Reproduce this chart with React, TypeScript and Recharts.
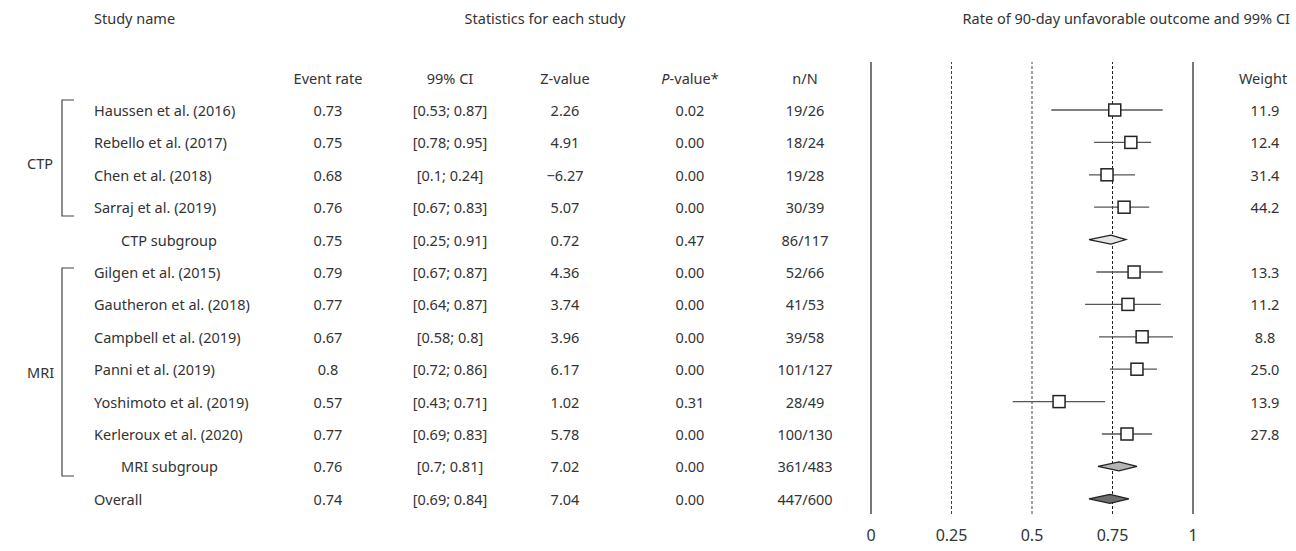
import { ComposedChart, Scatter, XAxis, YAxis, ReferenceLine, ErrorBar } from 'recharts';

const studies = [
  'Haussen et al. (2016)', 'Rebello et al. (2017)', 'Chen et al. (2018)', 'Sarraj et al. (2019)',
  'CTP subgroup',
  'Gilgen et al. (2015)', 'Gautheron et al. (2018)', 'Campbell et al. (2019)', 'Panni et al. (2019)',
  'Yoshimoto et al. (2019)', 'Kerleroux et al. (2020)',
  'MRI subgroup', 'Overall',
];
const kinds = ['s', 's', 's', 's', 'ctp', 's', 's', 's', 's', 's', 's', 'mri', 'all'];
const eventRates = ['0.73', '0.75', '0.68', '0.76', '0.75', '0.79', '0.77', '0.67', '0.8', '0.57', '0.77', '0.76', '0.74'];
const ciText = ['[0.53; 0.87]', '[0.78; 0.95]', '[0.1; 0.24]', '[0.67; 0.83]', '[0.25; 0.91]', '[0.67; 0.87]', '[0.64; 0.87]', '[0.58; 0.8]', '[0.72; 0.86]', '[0.43; 0.71]', '[0.69; 0.83]', '[0.7; 0.81]', '[0.69; 0.84]'];
const zValues = ['2.26', '4.91', '−6.27', '5.07', '0.72', '4.36', '3.74', '3.96', '6.17', '1.02', '5.78', '7.02', '7.04'];
const pValues = ['0.02', '0.00', '0.00', '0.00', '0.47', '0.00', '0.00', '0.00', '0.00', '0.31', '0.00', '0.00', '0.00'];
const nN = ['19/26', '18/24', '19/28', '30/39', '86/117', '52/66', '41/53', '39/58', '101/127', '28/49', '100/130', '361/483', '447/600'];
const weights = ['11.9', '12.4', '31.4', '44.2', '', '13.3', '11.2', '8.8', '25.0', '13.9', '27.8', '', ''];
// plotted estimate and interval
const est = [0.757, 0.807, 0.733, 0.786, 0.745, 0.817, 0.798, 0.842, 0.826, 0.584, 0.795, 0.77, 0.742];
const lo = [0.56, 0.693, 0.677, 0.693, 0.677, 0.70, 0.665, 0.708, 0.742, 0.44, 0.717, 0.705, 0.677];
const hi = [0.906, 0.87, 0.82, 0.864, 0.792, 0.906, 0.90, 0.938, 0.888, 0.727, 0.873, 0.826, 0.801];
const xTicks = [0, 0.25, 0.5, 0.75, 1];

const PLOT_L = 871;
const PLOT_R = 1193;
const TOP = 62;
const BOTTOM = 514;
const AXIS_H = 30;
const ROW0 = 110;
const ROW_H = 32.4;
const rowY = (i: number) => ROW0 + i * ROW_H;
const pxPerUnit = PLOT_R - PLOT_L;

const rows = studies.map((name, i) => ({
  name, kind: kinds[i], x: est[i], y: i, err: [est[i] - lo[i], hi[i] - est[i]], lo: lo[i], hi: hi[i],
}));
const studyRows = rows.filter((r) => r.kind === 's');
const poolRows = rows.filter((r) => r.kind !== 's');
const diamondFill: Record<string, string> = { ctp: '#e6e6e6', mri: '#b4b4b4', all: '#6e6e6e' };

function Square(props: any) {
  const { cx, cy } = props;
  return <rect x={cx - 6} y={cy - 6} width={12} height={12} fill="#fff" stroke="#222" strokeWidth={1.5} />;
}

function Diamond(props: any) {
  const { cx, cy, payload } = props;
  const l = cx - (payload.x - payload.lo) * pxPerUnit;
  const r = cx + (payload.hi - payload.x) * pxPerUnit;
  return (
    <polygon
      points={`${l},${cy} ${cx},${cy - 4.5} ${r},${cy} ${cx},${cy + 4.5}`}
      fill={diamondFill[payload.kind]}
      stroke="#222"
      strokeWidth={1.2}
    />
  );
}

function Cell({ x, y, children, align = 'center' }: { x: number; y: number; children: React.ReactNode; align?: string }) {
  const tx = align === 'center' ? '-50%' : align === 'right' ? '-100%' : '0';
  return (
    <div style={{ position: 'absolute', whiteSpace: 'nowrap', left: x, top: y, transform: `translate(${tx}, -50%)` }}>
      {children}
    </div>
  );
}

export default function App() {
  return (
    <div style={{ position: 'absolute', left: 0, top: 0, width: 1296, height: 551, background: '#fff', fontFamily: '"Noto Sans", sans-serif', fontSize: 14.5, color: '#333' }}>
      <Cell x={94} y={18} align="left">Study name</Cell>
      <Cell x={545} y={18}>Statistics for each study</Cell>
      <Cell x={1290} y={18} align="right">Rate of 90-day unfavorable outcome and 99% CI</Cell>
      <Cell x={328} y={78}>Event rate</Cell>
      <Cell x={450} y={78}>99% CI</Cell>
      <Cell x={565} y={78}>Z-value</Cell>
      <Cell x={690} y={78}><i>P</i>-value*</Cell>
      <Cell x={805} y={78}>n/N</Cell>
      <Cell x={1263} y={78}>Weight</Cell>
      <Cell x={27} y={163} align="left">CTP</Cell>
      <Cell x={27} y={372} align="left">MRI</Cell>
      {rows.map((r, i) => (
        <div key={r.name}>
          <Cell x={r.kind === 'ctp' || r.kind === 'mri' ? 121 : 94} y={rowY(i)} align="left">{r.name}</Cell>
          <Cell x={328} y={rowY(i)}>{eventRates[i]}</Cell>
          <Cell x={450} y={rowY(i)}>{ciText[i]}</Cell>
          <Cell x={565} y={rowY(i)}>{zValues[i]}</Cell>
          <Cell x={690} y={rowY(i)}>{pValues[i]}</Cell>
          <Cell x={805} y={rowY(i)}>{nN[i]}</Cell>
          {weights[i] && <Cell x={1265} y={rowY(i)}>{weights[i]}</Cell>}
        </div>
      ))}
      <svg style={{ position: 'absolute', left: 0, top: 0 }} width={100} height={551}>
        <polyline points="74,100 62,100 62,216 74,216" fill="none" stroke="#444" strokeWidth={1.2} />
        <polyline points="74,268 62,268 62,476 74,476" fill="none" stroke="#444" strokeWidth={1.2} />
      </svg>
      <div style={{ position: 'absolute', left: 0, top: 0 }}>
        <ComposedChart
          width={1296}
          height={551}
          margin={{ top: TOP, right: 1296 - PLOT_R, bottom: 551 - BOTTOM - AXIS_H, left: PLOT_L }}
        >
          <XAxis
            type="number"
            dataKey="x"
            domain={[0, 1]}
            ticks={xTicks}
            height={AXIS_H}
            tickFormatter={(v) => String(v)}
            axisLine={false}
            tickLine={false}
            tick={{ fill: '#333', fontSize: 16, fontFamily: '"Noto Sans", sans-serif' }}
            dy={8}
          />
          <YAxis
            type="number"
            dataKey="y"
            domain={[(TOP - ROW0) / ROW_H, (BOTTOM - ROW0) / ROW_H]}
            reversed
            hide
          />
          <ReferenceLine x={0} stroke="#777" strokeWidth={2} />
          <ReferenceLine x={1} stroke="#777" strokeWidth={2} />
          <ReferenceLine x={0.25} stroke="#444" strokeDasharray="3 2" />
          <ReferenceLine x={0.5} stroke="#444" strokeDasharray="3 2" />
          <ReferenceLine x={0.75} stroke="#222" strokeDasharray="3 2" />
          <Scatter data={studyRows} shape={() => null} isAnimationActive={false}>
            <ErrorBar dataKey="err" direction="x" width={0} stroke="#555" strokeWidth={1.3} isAnimationActive={false} />
          </Scatter>
          <Scatter data={studyRows} shape={<Square />} isAnimationActive={false} />
          <Scatter data={poolRows} shape={<Diamond />} isAnimationActive={false} />
        </ComposedChart>
      </div>
    </div>
  );
}
